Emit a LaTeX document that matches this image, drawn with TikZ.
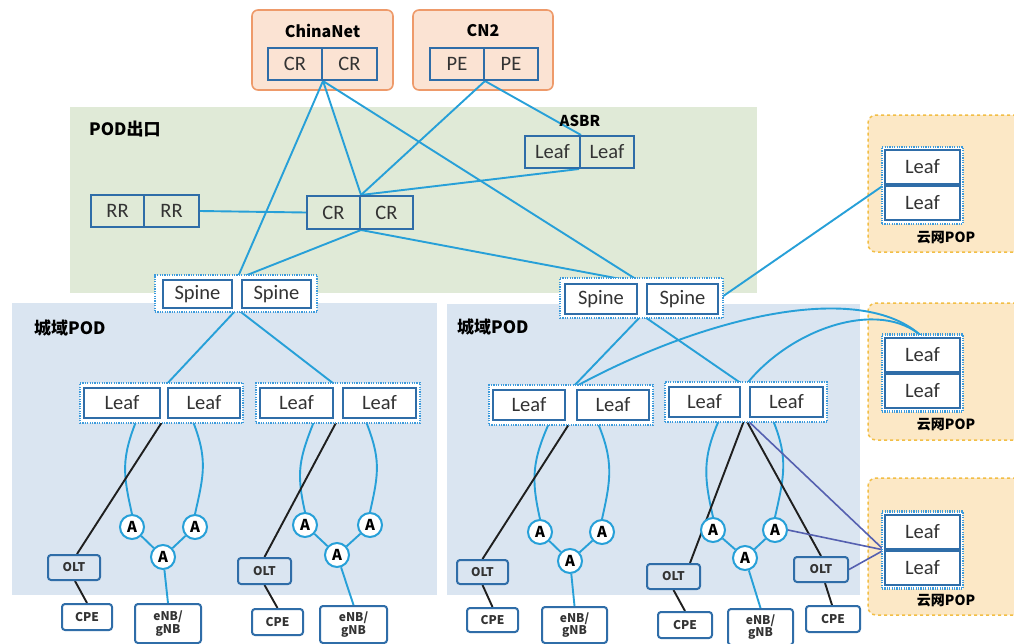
\documentclass[tikz,border=0pt]{standalone}
\usepackage{fontspec}
\setmainfont{Carlito}
\newfontfamily\cjk{Noto Sans CJK SC}
\usetikzlibrary{calc}
\definecolor{peach}{HTML}{FBE3D3}
\definecolor{orangeb}{HTML}{EE9A6A}
\definecolor{greenbg}{HTML}{E0EAD7}
\definecolor{bluebg}{HTML}{DAE5F1}
\definecolor{popbg}{HTML}{FCE8C6}
\definecolor{popb}{HTML}{F2BE45}
\definecolor{linecyan}{HTML}{27A0D8}
\definecolor{boxblue}{HTML}{2F6DA8}
\definecolor{dotblue}{HTML}{3C9BDC}
\definecolor{purp}{HTML}{5560B0}
\definecolor{txtgray}{HTML}{333333}
\pgfdeclarelayer{bg}
\pgfdeclarelayer{lines}
\pgfsetlayers{bg,lines,main}
\begin{document}
\begin{tikzpicture}[x=1pt,y=-1pt,
  area/.style={inner sep=0pt, outer sep=0pt},
  dev/.style={draw=boxblue, line width=2pt, minimum height=32pt, inner sep=0pt, font=\fontsize{20.5}{20.5}\selectfont, text=txtgray},
  wdev/.style={dev, fill=white},
  small/.style={draw=boxblue, line width=2pt, rounded corners=3pt, inner sep=0pt, align=center, font=\cjk\bfseries\fontsize{12}{12.5}\selectfont, text=txtgray},
  anode/.style={circle, draw=linecyan, line width=2pt, fill=white, minimum size=24pt, inner sep=0pt, font=\cjk\bfseries\fontsize{15}{15}\selectfont},
  link/.style={draw=linecyan, line width=1.9pt},
  blk/.style={draw=black!88, line width=1.9pt},
  pur/.style={draw=purp, line width=1.6pt},
  pairbox/.style={draw=dotblue, line width=2.6pt, dash pattern=on 1.2pt off 1.2pt, fill=white, inner sep=0pt},
  title/.style={font=\cjk\bfseries\fontsize{16}{16}\selectfont, inner sep=0pt}
]
\useasboundingbox (0,0) rectangle (1014,643);
\clip (0,0) rectangle (1014,643);

% background areas
\begin{pgfonlayer}{bg}
\fill[white] (0,0) rectangle (1014,643);
\node[area, fill=greenbg, minimum width=687pt, minimum height=186pt] (green) at (413.5,200) {};
\node[area, fill=bluebg, minimum width=425pt, minimum height=292pt] (blueL) at (224.5,449) {};
\node[area, fill=bluebg, minimum width=413pt, minimum height=291pt] (blueR) at (653.5,449.5) {};
\node[area, fill=peach, draw=orangeb, line width=1.6pt, rounded corners=6pt, minimum width=141pt, minimum height=80pt] (chinanet) at (322.5,50) {};
\node[area, fill=peach, draw=orangeb, line width=1.6pt, rounded corners=6pt, minimum width=140pt, minimum height=80pt] (cn2) at (483,50) {};
\node[area, fill=popbg, draw=popb, line width=1.5pt, dashed, rounded corners=8pt, minimum width=162pt, minimum height=137pt] (pop1) at (949,183.5) {};
\node[area, fill=popbg, draw=popb, line width=1.5pt, dashed, rounded corners=8pt, minimum width=162pt, minimum height=137pt] (pop2) at (949,371.5) {};
\node[area, fill=popbg, draw=popb, line width=1.5pt, dashed, rounded corners=8pt, minimum width=162pt, minimum height=137pt] (pop3) at (949,546.5) {};
\end{pgfonlayer}

% titles
\node[title] (tcn) at (322.5,31) {ChinaNet};
\node[title] (tcn2) at (483,31) {CN2};
\node[title, anchor=west, font=\cjk\bfseries\fontsize{17}{17}\selectfont] (tpod) at (89,129) {POD出口};
\node[title, font=\cjk\bfseries\fontsize{15}{15}\selectfont] (tasbr) at (580,121) {ASBR};
\node[title, anchor=west, font=\cjk\bfseries\fontsize{17}{17}\selectfont] (tcityL) at (34,328) {城域POD};
\node[title, anchor=west, font=\cjk\bfseries\fontsize{17}{17}\selectfont] (tcityR) at (457,327) {城域POD};
\node[title, font=\cjk\bfseries\fontsize{14}{14}\selectfont] (tpop1) at (946,238) {云网POP};
\node[title, font=\cjk\bfseries\fontsize{14}{14}\selectfont] (tpop2) at (946,425) {云网POP};
\node[title, font=\cjk\bfseries\fontsize{14}{14}\selectfont] (tpop3) at (946,601) {云网POP};

% top devices
\node[dev, minimum width=54pt] (CN1) at (295,64) {CR};
\node[dev, minimum width=55pt] (CN2) at (349.5,64) {CR};
\node[dev, minimum width=54pt] (PE1) at (457,64) {PE};
\node[dev, minimum width=54pt] (PE2) at (511,64) {PE};
\node[dev, minimum width=55pt] (AS1) at (552.5,152) {Leaf};
\node[dev, minimum width=54pt] (AS2) at (607,152) {Leaf};
\node[dev, minimum width=53pt] (RR1) at (117.5,211) {RR};
\node[dev, minimum width=55pt] (RR2) at (171.5,211) {RR};
\node[dev, minimum width=53pt, minimum height=33pt] (CR1) at (333.5,212.5) {CR};
\node[dev, minimum width=53pt, minimum height=33pt] (CR2) at (386.5,212.5) {CR};

% spines
\node[pairbox, minimum width=162pt, minimum height=37pt] (spLo) at (236,293.5) {};
\node[wdev, minimum width=69pt, minimum height=28pt] (SL1) at (197.5,294) {Spine};
\node[wdev, minimum width=69pt, minimum height=28pt] (SL2) at (276.5,294) {Spine};
\node[pairbox, minimum width=163pt, minimum height=40pt] (spRo) at (641.5,298) {};
\node[wdev, minimum width=72pt, minimum height=30pt] (SR1) at (601,299) {Spine};
\node[wdev, minimum width=71pt, minimum height=30pt] (SR2) at (682.5,299) {Spine};

% leaf pairs
\node[pairbox, minimum width=163pt, minimum height=40pt] (lAo) at (161.5,403) {};
\node[wdev, minimum width=76pt, minimum height=30pt] (LA1) at (122,403) {Leaf};
\node[wdev, minimum width=72pt, minimum height=30pt] (LA2) at (204,403) {Leaf};
\node[pairbox, minimum width=164pt, minimum height=40pt] (lBo) at (338,403) {};
\node[wdev, minimum width=73pt, minimum height=30pt] (LB1) at (296.5,403) {Leaf};
\node[wdev, minimum width=73pt, minimum height=30pt] (LB2) at (379.5,403) {Leaf};
\node[pairbox, minimum width=164pt, minimum height=40pt] (lCo) at (571,405) {};
\node[wdev, minimum width=72pt, minimum height=30pt] (LC1) at (529,405) {Leaf};
\node[wdev, minimum width=72pt, minimum height=30pt] (LC2) at (613,405) {Leaf};
\node[pairbox, minimum width=162pt, minimum height=40pt] (lDo) at (746,402) {};
\node[wdev, minimum width=71pt, minimum height=30pt] (LD1) at (704.5,402) {Leaf};
\node[wdev, minimum width=73pt, minimum height=30pt] (LD2) at (786.5,402) {Leaf};

% POP leafs
\node[pairbox, minimum width=81pt, minimum height=77pt] (p1o) at (922.5,185.5) {};
\node[wdev, minimum width=75pt, minimum height=34pt] (P1a) at (922.5,167) {Leaf};
\node[wdev, minimum width=75pt, minimum height=34pt] (P1b) at (922.5,203) {Leaf};
\node[pairbox, minimum width=81pt, minimum height=77pt] (p2o) at (922.5,373) {};
\node[wdev, minimum width=75pt, minimum height=34pt] (P2a) at (922.5,355) {Leaf};
\node[wdev, minimum width=75pt, minimum height=34pt] (P2b) at (922.5,391) {Leaf};
\node[pairbox, minimum width=81pt, minimum height=77pt] (p3o) at (922.5,550) {};
\node[wdev, minimum width=75pt, minimum height=34pt] (P3a) at (922.5,532) {Leaf};
\node[wdev, minimum width=75pt, minimum height=34pt] (P3b) at (922.5,568) {Leaf};

% access nodes
\node[anode] (a1) at (132,527) {A};
\node[anode] (a2) at (195,527) {A};
\node[anode] (a3) at (163,557) {A};
\node[anode] (b1) at (305,525) {A};
\node[anode] (b2) at (370,525) {A};
\node[anode] (b3) at (337,555) {A};
\node[anode] (c1) at (540,532) {A};
\node[anode] (c2) at (602,532) {A};
\node[anode] (c3) at (570,561) {A};
\node[anode] (d1) at (713,530) {A};
\node[anode] (d2) at (775,530) {A};
\node[anode] (d3) at (745,558) {A};

\node[small, minimum width=52pt, minimum height=25pt] (olt1) at (74,567.5) {OLT};
\node[small, minimum width=50pt, minimum height=26pt] (cpe1) at (87,617) {CPE};
\node[small, minimum width=66pt, minimum height=39pt] (enb1) at (168,623.5) {eNB/\\gNB};
\node[small, minimum width=53pt, minimum height=26pt] (olt2) at (264.5,571) {OLT};
\node[small, minimum width=51pt, minimum height=26pt] (cpe2) at (277.5,622) {CPE};
\node[small, minimum width=67pt, minimum height=37pt] (enb2) at (353.5,624.5) {eNB/\\gNB};
\node[small, minimum width=51pt, minimum height=24pt] (olt3) at (482.5,572) {OLT};
\node[small, minimum width=51pt, minimum height=24pt] (cpe3) at (492.5,620) {CPE};
\node[small, minimum width=65pt, minimum height=36pt] (enb3) at (574.5,625) {eNB/\\gNB};
\node[small, minimum width=53pt, minimum height=25pt] (olt4) at (673.5,576.5) {OLT};
\node[small, minimum width=54pt, minimum height=26pt] (cpe4) at (685,625) {CPE};
\node[small, minimum width=65pt, minimum height=36pt] (enb4) at (760.5,627) {eNB/\\gNB};
\node[small, minimum width=54pt, minimum height=25pt] (olt5) at (821,569.5) {OLT};
\node[small, minimum width=54pt, minimum height=26pt] (cpe5) at (833,619) {CPE};

% junction coordinates
\coordinate (cnJ) at (CN1.south east);
\coordinate (peJ) at (PE1.south east);
\coordinate (asT) at (AS1.north east);
\coordinate (asB) at ([xshift=-2pt]AS1.south east);
\coordinate (crT) at (CR1.north east);
\coordinate (crB) at (CR1.south east);
\coordinate (spLt) at ($(SL1.north east)!0.5!(SL2.north west)$);
\coordinate (spLb) at ($(SL1.south east)!0.5!(SL2.south west)$);
\coordinate (spRt) at ($(SR1.north east)!0.5!(SR2.north west)$);
\coordinate (spRb) at ($(SR1.south east)!0.5!(SR2.south west)$);
\coordinate (lAt) at ($(LA1.north east)!0.5!(LA2.north west)$);
\coordinate (lAb) at ($(LA1.south east)!0.5!(LA2.south west)$);
\coordinate (lBt) at ($(LB1.north east)!0.5!(LB2.north west)$);
\coordinate (lBb) at ($(LB1.south east)!0.5!(LB2.south west)$);
\coordinate (lCt) at ($(LC1.north east)!0.5!(LC2.north west)$);
\coordinate (lCb) at ($(LC1.south east)!0.5!(LC2.south west)$);
\coordinate (lDt) at ($(LD1.north east)!0.5!(LD2.north west)$);
\coordinate (lDb) at ($(LD1.south east)!0.5!(LD2.south west)$);
\coordinate (p1J) at (P1a.south west);
\coordinate (p3J) at (P3a.south west);

\begin{pgfonlayer}{lines}
% pair ticks
\draw[link, line width=1.3pt] (SL1.east) -- (SL2.west);
\draw[link, line width=1.3pt] (SR1.east) -- (SR2.west);
\draw[link, line width=1.3pt] (LA1.east) -- (LA2.west);
\draw[link, line width=1.3pt] (LB1.east) -- (LB2.west);
\draw[link, line width=1.3pt] (LC1.east) -- (LC2.west);
\draw[link, line width=1.3pt] (LD1.east) -- (LD2.west);
% upper links
\draw[link] (cnJ) -- (spLt);
\draw[link] (cnJ) -- (crT);
\draw[link] (cnJ) -- (spRt);
\draw[link] (peJ) -- (crT);
\draw[link] (peJ) -- (asT);
\draw[link] (asB) -- (crT);
\draw[link] (RR2.east) -- (CR1.west);
\draw[link] (crB) -- (spLt);
\draw[link] (crB) -- (spRt);
\draw[link] (SR2.east) -- (p1J);
% spine to leaf
\draw[link] (spLb) -- (lAt);
\draw[link] (spLb) -- (lBt);
\draw[link] (spRb) -- (lCt);
\draw[link] (spRb) -- (lDt);
\draw[link] (lCt) .. controls (700,318) and (860,278) .. (P2a.north);
\draw[link] (lDt) .. controls (790,328) and (880,298) .. (P2a.north);
% rings
\draw[link] ([xshift=15pt]LA1.south) .. controls +(-16,40) and +(-9,-40) .. (a1.north);
\draw[link] ([xshift=-12pt]LA2.south) .. controls +(16,40) and +(9,-40) .. (a2.north);
\draw[link] ([xshift=18.5pt]LB1.south) .. controls +(-16,40) and +(-9,-40) .. (b1.north);
\draw[link] ([xshift=-14.5pt]LB2.south) .. controls +(16,40) and +(9,-40) .. (b2.north);
\draw[link] ([xshift=21pt]LC1.south) .. controls +(-18,40) and +(-9,-40) .. (c1.north);
\draw[link] ([xshift=-16pt]LC2.south) .. controls +(17,40) and +(9,-40) .. (c2.north);
\draw[link] ([xshift=15.5pt]LD1.south) .. controls +(-18,40) and +(-9,-40) .. (d1.north);
\draw[link] ([xshift=-14.5pt]LD2.south) .. controls +(17,40) and +(9,-40) .. (d2.north);
\draw[link] (a1) -- (a3); \draw[link] (a2) -- (a3); \draw[link] (a3) -- (enb1.north);
\draw[link] (b1) -- (b3); \draw[link] (b2) -- (b3); \draw[link] (b3) -- (enb2.north);
\draw[link] (c1) -- (c3); \draw[link] (c2) -- (c3); \draw[link] (c3) -- (enb3.north);
\draw[link] (d1) -- (d3); \draw[link] (d2) -- (d3); \draw[link] (d3) -- (enb4.north);
% black links
\draw[blk] (lAb) -- ([xshift=3pt]olt1.north);
\draw[blk] ([xshift=1pt]olt1.south) -- (cpe1.north);
\draw[blk] (lBb) -- (olt2.north);
\draw[blk] (olt2.south) -- (cpe2.north);
\draw[blk] (lCb) -- (olt3.north);
\draw[blk] (olt3.south) -- (cpe3.north);
\draw[blk] (lDb) -- ([xshift=16.5pt]olt4.north);
\draw[blk] (olt4.south) -- (cpe4.north);
\draw[blk] (lDb) -- (olt5.north);
\draw[blk] ([xshift=4pt]olt5.south) -- ([xshift=-1pt]cpe5.north);
% purple links
\draw[pur] (lDb) -- (p3J);
\draw[pur] (d2.east) -- (p3J);
\draw[pur] (olt5.east) -- (p3J);
\end{pgfonlayer}
\end{tikzpicture}
\end{document}
